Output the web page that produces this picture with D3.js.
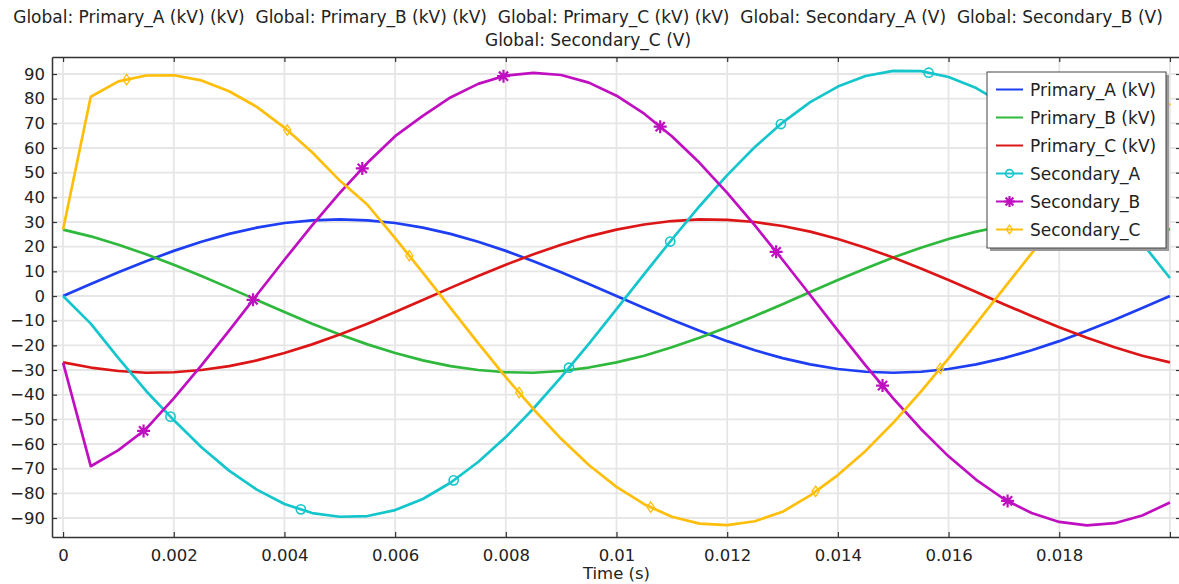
<!DOCTYPE html>
<html>
<head>
<meta charset="utf-8">
<script src="https://cdn.jsdelivr.net/npm/d3@7"></script>
<style>
  body { margin: 0; background: #fff; }
  svg { display: block; font-family: "DejaVu Sans", sans-serif; }
</style>
</head>
<body>
<svg id="chart" width="1179" height="584"></svg>
<script>
// time samples (s)
const time = [0, 0.0005, 0.001, 0.0015, 0.002, 0.0025, 0.003, 0.0035, 0.004, 0.0045,
  0.005, 0.0055, 0.006, 0.0065, 0.007, 0.0075, 0.008, 0.0085, 0.009, 0.0095,
  0.01, 0.0105, 0.011, 0.0115, 0.012, 0.0125, 0.013, 0.0135, 0.014, 0.0145,
  0.015, 0.0155, 0.016, 0.0165, 0.017, 0.0175, 0.018, 0.0185, 0.019, 0.0195, 0.02]

const primaryA = [0, 4.9, 9.6, 14.1, 18.3, 22.0, 25.2, 27.7, 29.6, 30.7,
  31.1, 30.7, 29.6, 27.7, 25.2, 22.0, 18.3, 14.1, 9.6, 4.9,
  0, -4.9, -9.6, -14.1, -18.3, -22.0, -25.2, -27.7, -29.6, -30.7,
  -31.1, -30.7, -29.6, -27.7, -25.2, -22.0, -18.3, -14.1, -9.6, -4.9, 0]

const primaryB = [26.9, 24.2, 20.8, 16.9, 12.7, 8.1, 3.3, -1.6, -6.5, -11.2,
  -15.6, -19.6, -23.1, -26.1, -28.4, -30.0, -30.9, -31.1, -30.4, -29.0,
  -26.9, -24.2, -20.8, -16.9, -12.7, -8.1, -3.3, 1.6, 6.5, 11.2,
  15.6, 19.6, 23.1, 26.1, 28.4, 30.0, 30.9, 31.1, 30.4, 29.0, 26.9]

const primaryC = [-26.9, -29.0, -30.4, -31.1, -30.9, -30.0, -28.4, -26.1, -23.1, -19.6,
  -15.6, -11.2, -6.5, -1.6, 3.3, 8.1, 12.7, 16.9, 20.8, 24.2,
  26.9, 29.0, 30.4, 31.1, 30.9, 30.0, 28.4, 26.1, 23.1, 19.6,
  15.6, 11.2, 6.5, 1.6, -3.3, -8.1, -12.7, -16.9, -20.8, -24.2, -26.9]

const secondaryA = [0, -11.2, -25.2, -38.5, -50.3, -61.3, -70.8, -78.5, -84.3, -88.0,
  -89.5, -89.2, -86.8, -82.3, -75.7, -67.3, -57.2, -45.6, -32.9, -19.4,
  -5.3, 8.9, 22.9, 36.4, 49.0, 60.4, 70.3, 78.6, 84.9, 89.2,
  91.3, 91.2, 88.8, 84.3, 77.7, 69.3, 59.2, 47.6, 34.9, 21.4, 7.3]

const secondaryB = [-27.0, -69.0, -62.5, -53.9, -41.5, -28.1, -14.0, 0.4, 14.7, 28.6,
  41.8, 54.0, 64.8, 73.0, 80.5, 86.0, 89.4, 90.5, 89.6, 86.5,
  81.2, 73.9, 64.8, 54.0, 41.8, 28.6, 14.7, 0.4, -14.0, -28.1,
  -41.5, -53.9, -65.0, -74.5, -82.3, -88.0, -91.6, -93.0, -92.1, -89.0, -83.7]

const secondaryC = [27.0, 80.8, 87.0, 89.4, 89.5, 87.4, 83.0, 76.7, 68.3, 58.3,
  46.8, 37.0, 23.5, 9.5, -4.8, -19.1, -32.9, -45.9, -57.9, -68.5,
  -77.4, -84.4, -89.5, -92.3, -92.9, -91.3, -87.5, -80.8, -72.6, -62.8,
  -51.4, -38.8, -25.3, -11.2, 3.1, 17.3, 31.1, 44.0, 56.5, 67.8, 78.0]

const seriesNames = ['Primary_A (kV)', 'Primary_B (kV)', 'Primary_C (kV)', 'Secondary_A', 'Secondary_B', 'Secondary_C']
const seriesValues = [primaryA, primaryB, primaryC, secondaryA, secondaryB, secondaryC]
const seriesColors = ['#1d3ef2', '#2eb83c', '#dc1616', '#14c6cc', '#bf0fc0', '#ffbe0a']
const seriesMarkers = [null, null, null, 'circle', 'star', 'diamond']

const xTicks = [0, 0.002, 0.004, 0.006, 0.008, 0.01, 0.012, 0.014, 0.016, 0.018, 0.02]
const xTickLabels = ['0', '0.002', '0.004', '0.006', '0.008', '0.01', '0.012', '0.014', '0.016', '0.018', '']
const yTicks = [-90, -80, -70, -60, -50, -40, -30, -20, -10, 0, 10, 20, 30, 40, 50, 60, 70, 80, 90]

const titleLines = [
  'Global: Primary_A (kV) (kV)  Global: Primary_B (kV) (kV)  Global: Primary_C (kV) (kV)  Global: Secondary_A (V)  Global: Secondary_B (V)',
  'Global: Secondary_C (V)'
]

const plotLeft = 52, plotRight = 1181, plotTop = 57, plotBottom = 537

const svg = d3.select('#chart')

const x = d3.scaleLinear().domain([-0.0002, 0.0202]).range([plotLeft, plotRight])
const y = d3.scaleLinear().domain([-97.7, 96.9]).range([plotBottom, plotTop])

// title
svg.append('g').selectAll('text')
  .data(titleLines)
  .enter().append('text')
    .attr('x', 588)
    .attr('y', (d, i) => 23 + i * 23)
    .attr('text-anchor', 'middle')
    .attr('font-size', 17)
    .attr('fill', '#222')
    .style('white-space', 'pre')
    .text(d => d)

// grid
const grid = svg.append('g')
grid.selectAll('.vg').data(xTicks).enter().append('line')
  .attr('x1', d => x(d)).attr('x2', d => x(d))
  .attr('y1', plotTop).attr('y2', plotBottom)
  .attr('stroke', '#e6e6e6').attr('stroke-width', 1.8)
grid.selectAll('.hg').data(yTicks).enter().append('line')
  .attr('x1', plotLeft).attr('x2', plotRight)
  .attr('y1', d => y(d)).attr('y2', d => y(d))
  .attr('stroke', '#e6e6e6').attr('stroke-width', 1.8)

// axes
const axisColor = '#333'
const xb = svg.append('g').attr('transform', 'translate(0,' + plotBottom + ')')
  .call(d3.axisBottom(x).tickValues(xTicks).tickSizeInner(-5).tickSizeOuter(0)
    .tickFormat((d, i) => xTickLabels[i]))
const xt = svg.append('g').attr('transform', 'translate(0,' + plotTop + ')')
  .call(d3.axisTop(x).tickValues(xTicks).tickSizeInner(-5).tickSizeOuter(0).tickFormat(''))
const yl = svg.append('g').attr('transform', 'translate(' + plotLeft + ',0)')
  .call(d3.axisLeft(y).tickValues(yTicks).tickSizeInner(-5).tickSizeOuter(0).tickFormat(d3.format('d')))
const yr = svg.append('g').attr('transform', 'translate(' + plotRight + ',0)')
  .call(d3.axisRight(y).tickValues(yTicks).tickSizeInner(-5).tickSizeOuter(0).tickFormat(''))

;[xb, xt, yl, yr].forEach(g => {
  g.select('.domain').attr('stroke', axisColor).attr('stroke-width', 1.5)
  g.selectAll('.tick line').attr('stroke', axisColor).attr('stroke-width', 1.2)
  g.selectAll('text').attr('fill', '#222').attr('font-size', 16.5).attr('font-family', '"DejaVu Sans", sans-serif')
})
xb.selectAll('text').attr('y', 12).attr('dy', '0.71em')
yl.selectAll('text').attr('x', -7)

svg.append('text')
  .attr('x', (plotLeft + plotRight) / 2)
  .attr('y', 579)
  .attr('text-anchor', 'middle')
  .attr('font-size', 16.5)
  .attr('fill', '#222')
  .text('Time (s)')

// lines
svg.append('clipPath').attr('id', 'plotclip')
  .append('rect').attr('x', plotLeft).attr('y', plotTop).attr('width', plotRight - plotLeft).attr('height', plotBottom - plotTop)

const plot = svg.append('g').attr('clip-path', 'url(#plotclip)')

const line = d3.line()
  .x((d, i) => x(time[i]))
  .y(d => y(d))

function drawMarker(g, type, color, cx, cy, small) {
  const s = small ? 0.85 : 1
  if (type === 'circle') {
    g.append('circle').attr('cx', cx).attr('cy', cy).attr('r', 4.6 * s)
      .attr('fill', 'none').attr('stroke', color).attr('stroke-width', 1.6)
  } else if (type === 'star') {
    const r = 6.5 * s
    let p = ''
    for (let a = 0; a < 180; a += 45) {
      const dx = r * Math.cos(a * Math.PI / 180), dy = r * Math.sin(a * Math.PI / 180)
      p += 'M' + (cx - dx) + ',' + (cy - dy) + 'L' + (cx + dx) + ',' + (cy + dy)
    }
    g.append('path').attr('d', p).attr('stroke', color).attr('stroke-width', 2.2).attr('fill', 'none')
  } else if (type === 'diamond') {
    const w = 3.6 * s, h = 5.2 * s
    g.append('path')
      .attr('d', 'M' + cx + ',' + (cy - h) + 'L' + (cx + w) + ',' + cy + 'L' + cx + ',' + (cy + h) + 'L' + (cx - w) + ',' + cy + 'Z')
      .attr('fill', 'none').attr('stroke', color).attr('stroke-width', 1.3)
  }
}

seriesValues.forEach((vals, si) => {
  const path = plot.append('path')
    .attr('d', line(vals))
    .attr('fill', 'none')
    .attr('stroke', seriesColors[si])
    .attr('stroke-width', 2.7)
    .attr('stroke-linejoin', 'round')

  if (seriesMarkers[si]) {
    // markers spread evenly along the drawn curve
    const node = path.node()
    const len = node.getTotalLength()
    const n = 8
    for (let i = 1; i <= n; i++) {
      const pt = node.getPointAtLength(i * len / (n + 1))
      drawMarker(plot, seriesMarkers[si], seriesColors[si], pt.x, pt.y, false)
    }
  }
})

// legend
const lg = svg.append('g')
const lx = 987, ly = 72, lw = 179, lh = 176
lg.append('rect').attr('x', lx + 3).attr('y', ly + 3).attr('width', lw).attr('height', lh).attr('fill', '#9a9a9a')
lg.append('rect').attr('x', lx).attr('y', ly).attr('width', lw).attr('height', lh)
  .attr('fill', '#fff').attr('stroke', '#444').attr('stroke-width', 1)

seriesNames.forEach((name, i) => {
  const cy = 89.5 + i * 28
  lg.append('line').attr('x1', 996).attr('x2', 1023).attr('y1', cy).attr('y2', cy)
    .attr('stroke', seriesColors[i]).attr('stroke-width', 2)
  if (seriesMarkers[i]) drawMarker(lg, seriesMarkers[i], seriesColors[i], 1009.5, cy, true)
  lg.append('text').attr('x', 1030).attr('y', cy).attr('dy', '0.36em')
    .attr('font-size', 17).attr('fill', '#222').text(name)
})
</script>
</body>
</html>
